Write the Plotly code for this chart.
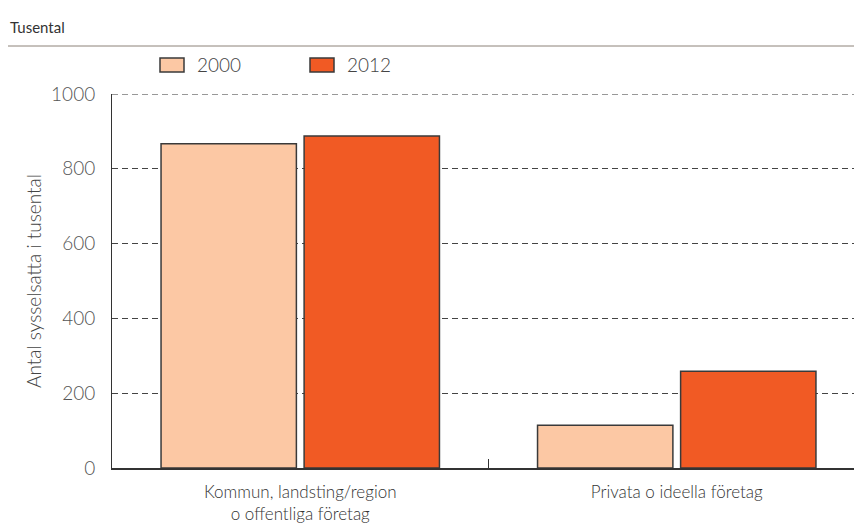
import plotly.graph_objects as go

categories = ["Kommun, landsting/region<br>o offentliga företag", "Privata o ideella företag"]
series_names = ["2000", "2012"]
values_2000 = [867, 114]
values_2012 = [888, 259]
y_ticks = [0, 200, 400, 600, 800, 1000]

colors = ["#FCC8A4", "#F15A24"]
outline = "#3a3a3a"
FONT = "Lato"
LIGHT = 300

fig = go.Figure()
for name, vals, col in zip(series_names, [values_2000, values_2012], colors):
    fig.add_trace(go.Bar(
        x=categories, y=vals, name=name, showlegend=False,
        marker=dict(color=col, line=dict(color=outline, width=1.5)),
    ))

W, H = 862, 523
L, R, T, B = 104, 5, 86, 63
pw = W - L - R
ph = H - T - B

def px(xp):
    return (xp - L) / pw

def py(yp):
    return (H - B - yp) / ph

# custom legend (rectangular swatches like the reference)
legend_x = [152, 302]
shapes = [
    dict(type="line", xref="paper", yref="paper", x0=px(0), x1=px(862),
         y0=py(38), y1=py(38), line=dict(color="#8C8279", width=1)),
    # top gridline (plotly hides the grid line at the range edge)
    dict(type="line", xref="paper", yref="y", x0=0, x1=1, y0=y_ticks[-1], y1=y_ticks[-1],
         line=dict(color="#333333", width=1.2, dash="6px,4px"), layer="below"),
]
annotations = [
    dict(text="Tusental", xref="paper", yref="paper", x=px(0), y=py(19),
         xanchor="left", yanchor="middle", showarrow=False,
         font=dict(family=FONT, size=15, color="#333333")),
]
for lx, name, col in zip(legend_x, series_names, colors):
    shapes.append(dict(type="rect", xref="paper", yref="paper",
                       x0=px(lx), x1=px(lx + 24), y0=py(64), y1=py(50),
                       fillcolor=col, line=dict(color=outline, width=1.5)))
    annotations.append(dict(text=name, xref="paper", yref="paper",
                            x=px(lx + 35), y=py(57), xanchor="left", yanchor="middle",
                            showarrow=False,
                            font=dict(family=FONT, size=19, color="#444444", weight=LIGHT)))

fig.update_layout(
    width=W, height=H,
    margin=dict(l=L, r=R, t=T, b=B, pad=0),
    paper_bgcolor="white", plot_bgcolor="white",
    barmode="group", bargap=0.24, bargroupgap=0.054,
    font=dict(family=FONT, color="#444444"),
    showlegend=False,
    xaxis=dict(
        showline=True, linecolor="#333333", linewidth=1.5,
        ticks="inside", ticklen=9, tickcolor="#333333", tickwidth=1,
        tickson="boundaries", showgrid=False,
        tickfont=dict(family=FONT, size=17, color="#333333", weight=LIGHT),
        ticklabelstandoff=8,
    ),
    yaxis=dict(
        range=[0, 1000], tickvals=y_ticks, ticktext=[str(v) for v in y_ticks],
        showline=True, linecolor="#333333", linewidth=1,
        showgrid=True, gridcolor="#444444", griddash="6px,4px", gridwidth=1,
        zeroline=False, ticks="", ticklabelstandoff=12,
        tickfont=dict(family=FONT, size=19, color="#555555", weight=LIGHT),
        title=dict(text="Antal sysselsatta i tusental",
                   font=dict(family=FONT, size=19, color="#444444", weight=LIGHT), standoff=4),
    ),
    annotations=annotations,
    shapes=shapes,
)

fig.write_html("out.html")
